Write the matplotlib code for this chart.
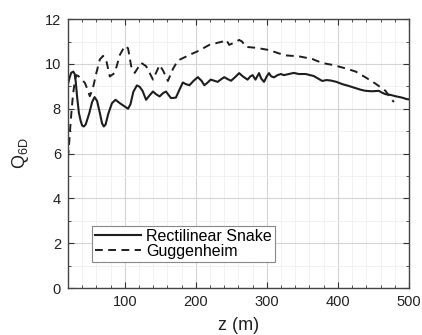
import numpy as np
import matplotlib
matplotlib.use("Agg")
import matplotlib.pyplot as plt
from matplotlib.ticker import MultipleLocator

# Rectilinear Snake (solid)
z_snake = [20, 22, 24.5, 27.5, 29.5, 31, 33, 35.5, 38, 40, 42.4, 45, 50, 54, 57.5, 61, 65, 68, 70.5, 73,
           77, 82, 87, 93, 100, 104.6, 108, 112, 117, 121, 125, 130, 135, 139.7, 144, 149, 154, 158,
           162, 165, 167.7, 172, 177, 181.7, 186, 191, 197, 202.8, 208, 212, 216, 221, 226, 230.8, 235,
           240, 245, 249.6, 255, 261, 266, 272.8, 277, 280, 284, 289, 292, 296, 300, 303, 306, 310,
           315, 319.7, 324, 331, 338, 345, 354.8, 366, 372, 378, 384, 390, 398, 406, 415, 425, 432,
           439, 448, 457.6, 462, 467, 474, 481, 490, 497, 500]
q_snake = [9.1, 9.35, 9.6, 9.66, 9.55, 9.2, 8.5, 7.8, 7.45, 7.25, 7.21, 7.3, 7.8, 8.3, 8.52, 8.35, 7.8, 7.35, 7.21, 7.3,
           7.8, 8.25, 8.4, 8.25, 8.1, 8.0, 8.2, 8.75, 9.04, 8.98, 8.8, 8.4, 8.6, 8.77, 8.65, 8.55, 8.7, 8.77,
           8.6, 8.48, 8.48, 8.5, 8.85, 9.17, 9.1, 9.05, 9.25, 9.41, 9.25, 9.05, 9.15, 9.3, 9.25, 9.2, 9.3,
           9.41, 9.32, 9.25, 9.4, 9.59, 9.45, 9.3, 9.45, 9.5, 9.3, 9.59, 9.35, 9.2, 9.45, 9.59, 9.45, 9.4,
           9.5, 9.55, 9.5, 9.55, 9.6, 9.55, 9.55, 9.46, 9.35, 9.24, 9.28, 9.26, 9.2, 9.1, 9.02, 8.92, 8.85,
           8.8, 8.78, 8.8, 8.72, 8.65, 8.62, 8.56, 8.5, 8.43, 8.42]

# Guggenheim (dashed)
z_gugg = [20, 22, 24, 27, 30, 32, 35, 38, 43.8, 47, 50.8, 55, 60, 64.9, 69.5, 74.3, 79, 86, 93,
          100, 104.6, 109, 114, 118, 123, 130, 135, 139.7, 144, 149, 154, 160.7, 167.7, 174.7, 191,
          205, 219, 237.8, 243, 247, 254, 261, 265, 270.6, 284.6, 303, 317, 326.7, 345, 364, 378, 392, 411,
          425, 439, 453, 467, 476, 479]
q_gugg = [5.8, 6.6, 7.5, 8.6, 9.3, 9.5, 9.45, 9.35, 9.16, 8.9, 8.56, 8.9, 9.6, 10.2, 10.36, 10.1, 9.44, 9.6, 10.4,
          10.8, 10.7, 9.9, 9.6, 9.8, 10.05, 9.9, 9.6, 9.3, 9.6, 9.95, 9.7, 9.24, 9.77, 10.15, 10.4,
          10.6, 10.85, 11.0, 11.07, 10.85, 10.95, 11.07, 11.0, 10.76, 10.72, 10.62, 10.47, 10.38, 10.34, 10.22, 10.04, 9.96, 9.8,
          9.66, 9.4, 9.12, 8.8, 8.4, 8.3]

plt.rcParams['font.family'] = ['Liberation Sans', 'DejaVu Sans']
plt.rcParams['mathtext.fontset'] = 'custom'
plt.rcParams['mathtext.rm'] = 'Liberation Sans'

fig = plt.figure(figsize=(4.22, 3.35), dpi=100)
ax = fig.add_axes([0.161, 0.140, 0.808, 0.803])

ax.plot(z_snake, q_snake, color='#1e1e1e', lw=1.5, label='Rectilinear Snake')
ax.plot(z_gugg, q_gugg, color='#1e1e1e', lw=1.4, linestyle=(0, (4, 2.8)), label='Guggenheim')

ax.set_xlim(20, 500)
ax.set_ylim(0, 12)
ax.xaxis.set_major_locator(MultipleLocator(100))
ax.xaxis.set_minor_locator(MultipleLocator(20))
ax.yaxis.set_major_locator(MultipleLocator(2))
ax.yaxis.set_minor_locator(MultipleLocator(1))
ax.set_xticks([100, 200, 300, 400, 500])

ax.grid(which='major', color='#d4d4d4', lw=0.8)
ax.grid(which='minor', color='#efefef', lw=0.6)
ax.set_axisbelow(True)

ax.tick_params(which='both', direction='in', top=True, right=True, colors='#333333', labelcolor='#222222')
ax.tick_params(which='major', length=4, labelsize=10.5, pad=5)
ax.tick_params(which='minor', length=2)
for s in ax.spines.values():
    s.set_color('#444444')
    s.set_linewidth(1.0)

ax.set_xlabel('z (m)', fontsize=13, color='#222222', labelpad=6)
ax.set_ylabel(r'Q$_{\mathregular{6D}}$', fontsize=13, color='#222222', labelpad=10)

leg = ax.legend(loc='lower left', bbox_to_anchor=(0.07, 0.097), borderaxespad=0, fontsize=11.5,
                fancybox=False, framealpha=1, edgecolor='#888888', handlelength=2.9,
                borderpad=0.2, labelspacing=0.0, handletextpad=0.3)
leg.get_frame().set_linewidth(0.8)

fig.savefig('out.png', dpi=100)
